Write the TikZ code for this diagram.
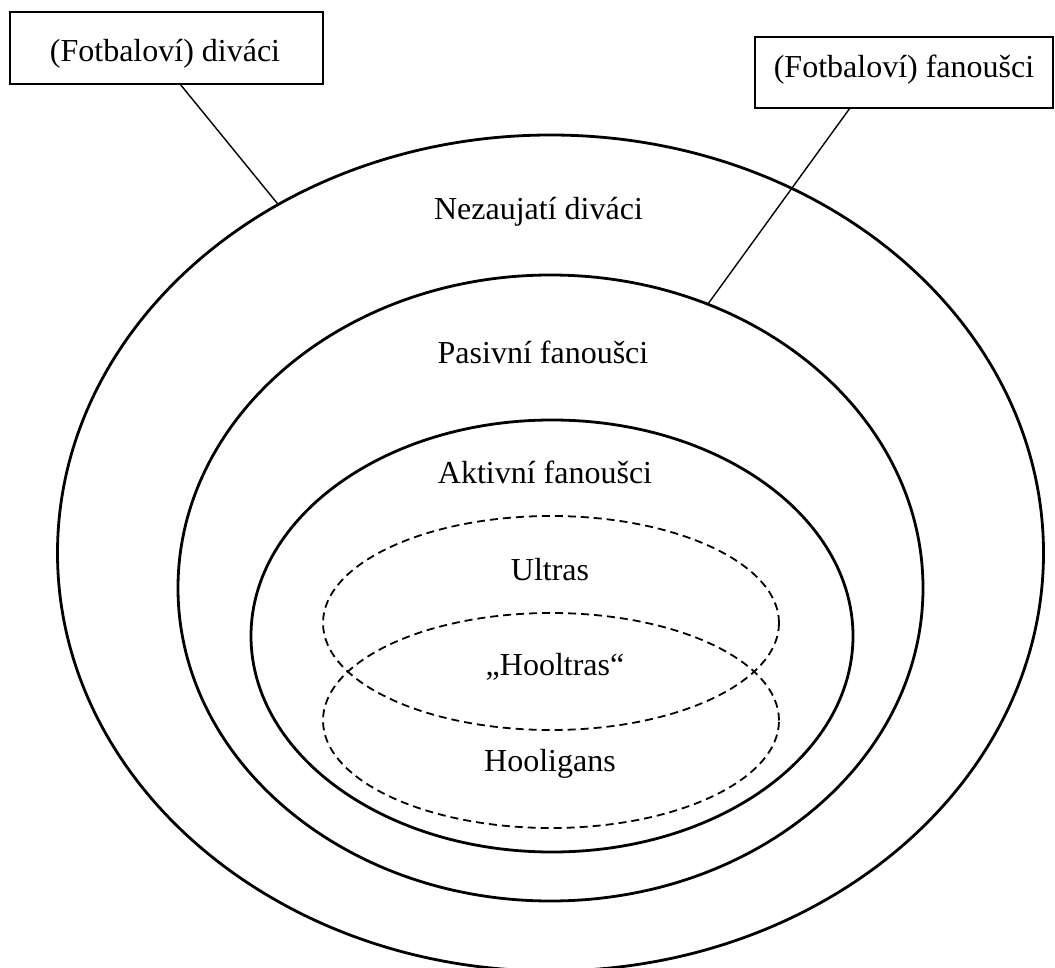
\documentclass[tikz,border=0pt]{standalone}
\usepackage{fontspec}
\setmainfont{Liberation Serif}
\usetikzlibrary{shapes.geometric}
\begin{document}
\begin{tikzpicture}[x=1pt,y=-1pt,
  ring/.style={draw, ellipse, line width=2.8pt, inner sep=0pt, outer sep=0pt},
  dring/.style={draw, ellipse, line width=1.8pt, dash pattern=on 8pt off 5pt, inner sep=0pt, outer sep=0pt},
  labelbox/.style={draw, rectangle, line width=1.8pt, inner sep=0pt, outer sep=0pt},
  txt/.style={anchor=base, inner sep=0pt, font=\fontsize{32}{38}\selectfont},
  link/.style={line width=1.4pt}]
\useasboundingbox (0,0) rectangle (1055,968);
% ellipses
\node[ring, minimum width=986pt, minimum height=836pt] (outer) at (550.5,553) {};
\node[ring, minimum width=745pt, minimum height=626pt] (middle) at (550.5,588) {};
\node[ring, minimum width=602pt, minimum height=432pt] (inner) at (552,636) {};
\node[dring, minimum width=456pt, minimum height=214pt] (ultras) at (551,623) {};
\node[dring, minimum width=456pt, minimum height=215pt] (hool) at (551,720.5) {};
% texts
\node[txt] (tnez) at (538.5,220) {Nezaujatí diváci};
\node[txt] (tpas) at (543,363) {Pasivní fanoušci};
\node[txt] (takt) at (545,483) {Aktivní fanoušci};
\node[txt] (tult) at (550,580) {Ultras};
\node[txt] (thooltras) at (555,675) {„Hooltras“};
\node[txt] (thool) at (550,771) {Hooligans};
% boxes
\node[labelbox, minimum width=313pt, minimum height=72pt] (b1) at (166.5,48) {};
\node[txt] (tb1) at (165,62) {(Fotbaloví) diváci};
\node[labelbox, minimum width=298pt, minimum height=71pt] (b2) at (904,72.5) {};
\node[txt] (tb2) at (904,78) {(Fotbaloví) fanoušci};
% connectors
\draw[link] ([xshift=13.5pt]b1.south) -- (outer.128);
\draw[link] ([xshift=-54pt]b2.south) -- (middle.61.5);
\end{tikzpicture}
\end{document}
